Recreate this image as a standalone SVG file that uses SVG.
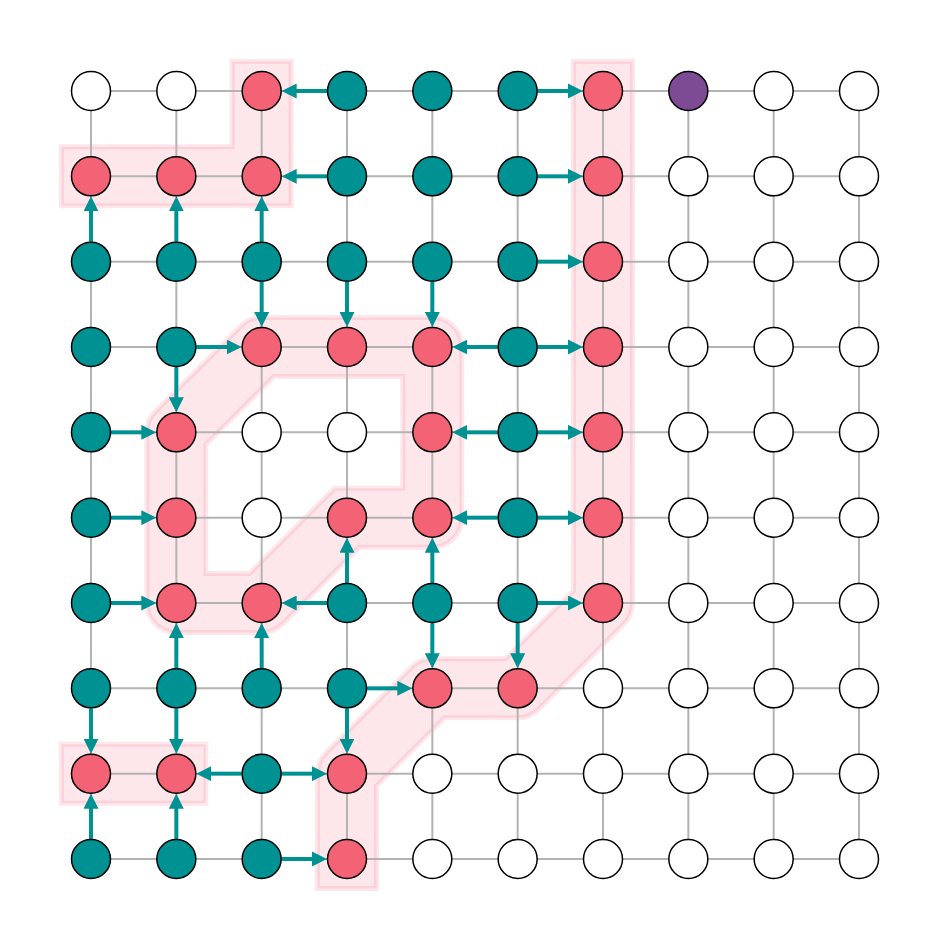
<svg xmlns="http://www.w3.org/2000/svg" width="950" height="950" viewBox="0 0 950 950">
<style>
.zone{fill:#F46076;fill-opacity:0.15;stroke:#F46076;stroke-opacity:0.15;stroke-width:5;stroke-linejoin:miter}
.grid line{stroke:#b3b3b3;stroke-width:2}
.arrows line{stroke:#009292;stroke-width:4;marker-end:url(#ah)}
circle{r:19.5;stroke:#000;stroke-width:1.5}
.w{fill:#fff}.r{fill:#F46276}.t{fill:#009292}.p{fill:#7D4A94}
</style>
<defs>
<marker id="ah" markerWidth="15" markerHeight="15" refX="1" refY="7.5" orient="auto" markerUnits="userSpaceOnUse">
<path d="M0,0 L15,7.5 L0,15 Z" fill="#009292"/>
</marker>
</defs>
<rect width="950" height="950" fill="#fff"/>
<g id="zones">
<path class="zone" d="M61.5,146.83 L232.17,146.83 L232.17,61.5 L291.17,61.5 L291.17,205.83 L61.5,205.83 Z"/>
<path class="zone" d="M61.5,744.17 L205.83,744.17 L205.83,803.17 L61.5,803.17 Z"/>
<path class="zone" fill-rule="evenodd" d="M261.67,317.5 L432.33,317.5 A29.5,29.5 0 0 1 461.83,347 L461.83,517.67 A29.5,29.5 0 0 1 432.33,547.17 L359.22,547.17 L282.53,623.86 A29.5,29.5 0 0 1 261.67,632.5 L176.33,632.5 A29.5,29.5 0 0 1 146.83,603 L146.83,432.33 A29.5,29.5 0 0 1 155.47,411.47 L240.81,326.14 A29.5,29.5 0 0 1 261.67,317.5 Z M273.88,376.5 L402.83,376.5 L402.83,488.17 L334.78,488.17 L249.45,573.5 L205.83,573.5 L205.83,444.55 Z"/>
<path class="zone" d="M573.5,61.5 L632.5,61.5 L632.5,603 A29.5,29.5 0 0 1 623.86,623.86 L538.53,709.19 A29.5,29.5 0 0 1 517.67,717.83 L444.56,717.83 L376.5,785.89 L376.5,888.5 L317.5,888.5 L317.5,773.67 A29.5,29.5 0 0 1 326.14,752.81 L411.47,667.47 A29.5,29.5 0 0 1 432.33,658.83 L505.45,658.83 L573.5,590.78 Z"/>
</g>
<g class="grid" id="grid">
<line x1="91" y1="91" x2="859" y2="91"/><line x1="91" y1="176.33" x2="859" y2="176.33"/><line x1="91" y1="261.67" x2="859" y2="261.67"/><line x1="91" y1="347" x2="859" y2="347"/><line x1="91" y1="432.33" x2="859" y2="432.33"/><line x1="91" y1="517.67" x2="859" y2="517.67"/><line x1="91" y1="603" x2="859" y2="603"/><line x1="91" y1="688.33" x2="859" y2="688.33"/><line x1="91" y1="773.67" x2="859" y2="773.67"/><line x1="91" y1="859" x2="859" y2="859"/>
<line y1="91" x1="91" y2="859" x2="91"/><line y1="91" x1="176.33" y2="859" x2="176.33"/><line y1="91" x1="261.67" y2="859" x2="261.67"/><line y1="91" x1="347" y2="859" x2="347"/><line y1="91" x1="432.33" y2="859" x2="432.33"/><line y1="91" x1="517.67" y2="859" x2="517.67"/><line y1="91" x1="603" y2="859" x2="603"/><line y1="91" x1="688.33" y2="859" x2="688.33"/><line y1="91" x1="773.67" y2="859" x2="773.67"/><line y1="91" x1="859" y2="859" x2="859"/>
</g>
<g class="arrows" id="connectors">
<line x1="327" y1="91" x2="295.67" y2="91"/>
<line x1="537.67" y1="91" x2="569" y2="91"/>
<line x1="327" y1="176.33" x2="295.67" y2="176.33"/>
<line x1="537.67" y1="176.33" x2="569" y2="176.33"/>
<line x1="537.67" y1="261.67" x2="569" y2="261.67"/>
<line x1="196.33" y1="347" x2="227.67" y2="347"/>
<line x1="497.67" y1="347" x2="466.33" y2="347"/>
<line x1="537.67" y1="347" x2="569" y2="347"/>
<line x1="111" y1="432.33" x2="142.33" y2="432.33"/>
<line x1="497.67" y1="432.33" x2="466.33" y2="432.33"/>
<line x1="537.67" y1="432.33" x2="569" y2="432.33"/>
<line x1="111" y1="517.67" x2="142.33" y2="517.67"/>
<line x1="497.67" y1="517.67" x2="466.33" y2="517.67"/>
<line x1="537.67" y1="517.67" x2="569" y2="517.67"/>
<line x1="111" y1="603" x2="142.33" y2="603"/>
<line x1="327" y1="603" x2="295.67" y2="603"/>
<line x1="537.67" y1="603" x2="569" y2="603"/>
<line x1="367" y1="688.33" x2="398.33" y2="688.33"/>
<line x1="241.67" y1="773.67" x2="210.33" y2="773.67"/>
<line x1="281.67" y1="773.67" x2="313" y2="773.67"/>
<line x1="281.67" y1="859" x2="313" y2="859"/>
<line x1="91" y1="241.67" x2="91" y2="210.33"/>
<line x1="176.33" y1="241.67" x2="176.33" y2="210.33"/>
<line x1="261.67" y1="241.67" x2="261.67" y2="210.33"/>
<line x1="261.67" y1="281.67" x2="261.67" y2="313"/>
<line x1="347" y1="281.67" x2="347" y2="313"/>
<line x1="432.33" y1="281.67" x2="432.33" y2="313"/>
<line x1="176.33" y1="367" x2="176.33" y2="398.33"/>
<line x1="347" y1="583" x2="347" y2="551.67"/>
<line x1="432.33" y1="583" x2="432.33" y2="551.67"/>
<line x1="432.33" y1="623" x2="432.33" y2="654.33"/>
<line x1="517.67" y1="623" x2="517.67" y2="654.33"/>
<line x1="91" y1="708.33" x2="91" y2="739.67"/>
<line x1="176.33" y1="708.33" x2="176.33" y2="739.67"/>
<line x1="176.33" y1="668.33" x2="176.33" y2="637"/>
<line x1="261.67" y1="668.33" x2="261.67" y2="637"/>
<line x1="347" y1="708.33" x2="347" y2="739.67"/>
<line x1="91" y1="839" x2="91" y2="807.67"/>
<line x1="176.33" y1="839" x2="176.33" y2="807.67"/>
</g>
<g id="nodes">
<g id="n0-0"><circle class="w" cx="91" cy="91" r="19.5"/></g>
<g id="n0-1"><circle class="w" cx="176.33" cy="91" r="19.5"/></g>
<g id="n0-2"><circle class="r" cx="261.67" cy="91" r="19.5"/></g>
<g id="n0-3"><circle class="t" cx="347" cy="91" r="19.5"/></g>
<g id="n0-4"><circle class="t" cx="432.33" cy="91" r="19.5"/></g>
<g id="n0-5"><circle class="t" cx="517.67" cy="91" r="19.5"/></g>
<g id="n0-6"><circle class="r" cx="603" cy="91" r="19.5"/></g>
<g id="n0-7"><circle class="p" cx="688.33" cy="91" r="19.5"/></g>
<g id="n0-8"><circle class="w" cx="773.67" cy="91" r="19.5"/></g>
<g id="n0-9"><circle class="w" cx="859" cy="91" r="19.5"/></g>
<g id="n1-0"><circle class="r" cx="91" cy="176.33" r="19.5"/></g>
<g id="n1-1"><circle class="r" cx="176.33" cy="176.33" r="19.5"/></g>
<g id="n1-2"><circle class="r" cx="261.67" cy="176.33" r="19.5"/></g>
<g id="n1-3"><circle class="t" cx="347" cy="176.33" r="19.5"/></g>
<g id="n1-4"><circle class="t" cx="432.33" cy="176.33" r="19.5"/></g>
<g id="n1-5"><circle class="t" cx="517.67" cy="176.33" r="19.5"/></g>
<g id="n1-6"><circle class="r" cx="603" cy="176.33" r="19.5"/></g>
<g id="n1-7"><circle class="w" cx="688.33" cy="176.33" r="19.5"/></g>
<g id="n1-8"><circle class="w" cx="773.67" cy="176.33" r="19.5"/></g>
<g id="n1-9"><circle class="w" cx="859" cy="176.33" r="19.5"/></g>
<g id="n2-0"><circle class="t" cx="91" cy="261.67" r="19.5"/></g>
<g id="n2-1"><circle class="t" cx="176.33" cy="261.67" r="19.5"/></g>
<g id="n2-2"><circle class="t" cx="261.67" cy="261.67" r="19.5"/></g>
<g id="n2-3"><circle class="t" cx="347" cy="261.67" r="19.5"/></g>
<g id="n2-4"><circle class="t" cx="432.33" cy="261.67" r="19.5"/></g>
<g id="n2-5"><circle class="t" cx="517.67" cy="261.67" r="19.5"/></g>
<g id="n2-6"><circle class="r" cx="603" cy="261.67" r="19.5"/></g>
<g id="n2-7"><circle class="w" cx="688.33" cy="261.67" r="19.5"/></g>
<g id="n2-8"><circle class="w" cx="773.67" cy="261.67" r="19.5"/></g>
<g id="n2-9"><circle class="w" cx="859" cy="261.67" r="19.5"/></g>
<g id="n3-0"><circle class="t" cx="91" cy="347" r="19.5"/></g>
<g id="n3-1"><circle class="t" cx="176.33" cy="347" r="19.5"/></g>
<g id="n3-2"><circle class="r" cx="261.67" cy="347" r="19.5"/></g>
<g id="n3-3"><circle class="r" cx="347" cy="347" r="19.5"/></g>
<g id="n3-4"><circle class="r" cx="432.33" cy="347" r="19.5"/></g>
<g id="n3-5"><circle class="t" cx="517.67" cy="347" r="19.5"/></g>
<g id="n3-6"><circle class="r" cx="603" cy="347" r="19.5"/></g>
<g id="n3-7"><circle class="w" cx="688.33" cy="347" r="19.5"/></g>
<g id="n3-8"><circle class="w" cx="773.67" cy="347" r="19.5"/></g>
<g id="n3-9"><circle class="w" cx="859" cy="347" r="19.5"/></g>
<g id="n4-0"><circle class="t" cx="91" cy="432.33" r="19.5"/></g>
<g id="n4-1"><circle class="r" cx="176.33" cy="432.33" r="19.5"/></g>
<g id="n4-2"><circle class="w" cx="261.67" cy="432.33" r="19.5"/></g>
<g id="n4-3"><circle class="w" cx="347" cy="432.33" r="19.5"/></g>
<g id="n4-4"><circle class="r" cx="432.33" cy="432.33" r="19.5"/></g>
<g id="n4-5"><circle class="t" cx="517.67" cy="432.33" r="19.5"/></g>
<g id="n4-6"><circle class="r" cx="603" cy="432.33" r="19.5"/></g>
<g id="n4-7"><circle class="w" cx="688.33" cy="432.33" r="19.5"/></g>
<g id="n4-8"><circle class="w" cx="773.67" cy="432.33" r="19.5"/></g>
<g id="n4-9"><circle class="w" cx="859" cy="432.33" r="19.5"/></g>
<g id="n5-0"><circle class="t" cx="91" cy="517.67" r="19.5"/></g>
<g id="n5-1"><circle class="r" cx="176.33" cy="517.67" r="19.5"/></g>
<g id="n5-2"><circle class="w" cx="261.67" cy="517.67" r="19.5"/></g>
<g id="n5-3"><circle class="r" cx="347" cy="517.67" r="19.5"/></g>
<g id="n5-4"><circle class="r" cx="432.33" cy="517.67" r="19.5"/></g>
<g id="n5-5"><circle class="t" cx="517.67" cy="517.67" r="19.5"/></g>
<g id="n5-6"><circle class="r" cx="603" cy="517.67" r="19.5"/></g>
<g id="n5-7"><circle class="w" cx="688.33" cy="517.67" r="19.5"/></g>
<g id="n5-8"><circle class="w" cx="773.67" cy="517.67" r="19.5"/></g>
<g id="n5-9"><circle class="w" cx="859" cy="517.67" r="19.5"/></g>
<g id="n6-0"><circle class="t" cx="91" cy="603" r="19.5"/></g>
<g id="n6-1"><circle class="r" cx="176.33" cy="603" r="19.5"/></g>
<g id="n6-2"><circle class="r" cx="261.67" cy="603" r="19.5"/></g>
<g id="n6-3"><circle class="t" cx="347" cy="603" r="19.5"/></g>
<g id="n6-4"><circle class="t" cx="432.33" cy="603" r="19.5"/></g>
<g id="n6-5"><circle class="t" cx="517.67" cy="603" r="19.5"/></g>
<g id="n6-6"><circle class="r" cx="603" cy="603" r="19.5"/></g>
<g id="n6-7"><circle class="w" cx="688.33" cy="603" r="19.5"/></g>
<g id="n6-8"><circle class="w" cx="773.67" cy="603" r="19.5"/></g>
<g id="n6-9"><circle class="w" cx="859" cy="603" r="19.5"/></g>
<g id="n7-0"><circle class="t" cx="91" cy="688.33" r="19.5"/></g>
<g id="n7-1"><circle class="t" cx="176.33" cy="688.33" r="19.5"/></g>
<g id="n7-2"><circle class="t" cx="261.67" cy="688.33" r="19.5"/></g>
<g id="n7-3"><circle class="t" cx="347" cy="688.33" r="19.5"/></g>
<g id="n7-4"><circle class="r" cx="432.33" cy="688.33" r="19.5"/></g>
<g id="n7-5"><circle class="r" cx="517.67" cy="688.33" r="19.5"/></g>
<g id="n7-6"><circle class="w" cx="603" cy="688.33" r="19.5"/></g>
<g id="n7-7"><circle class="w" cx="688.33" cy="688.33" r="19.5"/></g>
<g id="n7-8"><circle class="w" cx="773.67" cy="688.33" r="19.5"/></g>
<g id="n7-9"><circle class="w" cx="859" cy="688.33" r="19.5"/></g>
<g id="n8-0"><circle class="r" cx="91" cy="773.67" r="19.5"/></g>
<g id="n8-1"><circle class="r" cx="176.33" cy="773.67" r="19.5"/></g>
<g id="n8-2"><circle class="t" cx="261.67" cy="773.67" r="19.5"/></g>
<g id="n8-3"><circle class="r" cx="347" cy="773.67" r="19.5"/></g>
<g id="n8-4"><circle class="w" cx="432.33" cy="773.67" r="19.5"/></g>
<g id="n8-5"><circle class="w" cx="517.67" cy="773.67" r="19.5"/></g>
<g id="n8-6"><circle class="w" cx="603" cy="773.67" r="19.5"/></g>
<g id="n8-7"><circle class="w" cx="688.33" cy="773.67" r="19.5"/></g>
<g id="n8-8"><circle class="w" cx="773.67" cy="773.67" r="19.5"/></g>
<g id="n8-9"><circle class="w" cx="859" cy="773.67" r="19.5"/></g>
<g id="n9-0"><circle class="t" cx="91" cy="859" r="19.5"/></g>
<g id="n9-1"><circle class="t" cx="176.33" cy="859" r="19.5"/></g>
<g id="n9-2"><circle class="t" cx="261.67" cy="859" r="19.5"/></g>
<g id="n9-3"><circle class="r" cx="347" cy="859" r="19.5"/></g>
<g id="n9-4"><circle class="w" cx="432.33" cy="859" r="19.5"/></g>
<g id="n9-5"><circle class="w" cx="517.67" cy="859" r="19.5"/></g>
<g id="n9-6"><circle class="w" cx="603" cy="859" r="19.5"/></g>
<g id="n9-7"><circle class="w" cx="688.33" cy="859" r="19.5"/></g>
<g id="n9-8"><circle class="w" cx="773.67" cy="859" r="19.5"/></g>
<g id="n9-9"><circle class="w" cx="859" cy="859" r="19.5"/></g>
</g>
</svg>
